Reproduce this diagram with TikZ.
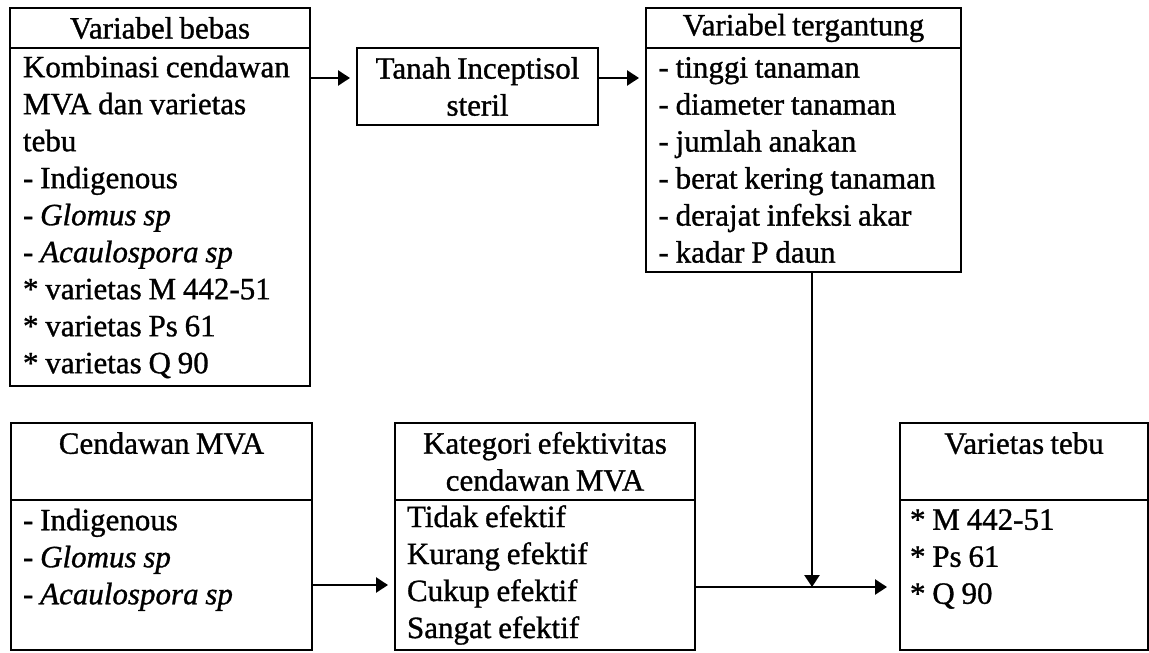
\documentclass[tikz,border=0pt]{standalone}
\usepackage{fontspec}
\setmainfont{Liberation Serif}[WordSpace=0.8,FakeBold=1]
\usetikzlibrary{arrows.meta}
\usetikzlibrary{positioning}

\tikzset{
	cell/.style={draw, line width=1pt, inner sep=0pt, font=\fontsize{15.5}{18.5}\selectfont},
	headcell/.style={cell, align=center},
	bodycell/.style={cell, align=left, execute at begin node={\spaceskip=0.22em\relax}},
	arr/.style={line width=1.3pt, -{Triangle[length=6pt,width=7.5pt]}, shorten >=3pt}
}

\begin{document}
\begin{tikzpicture}[x=0.5pt,y=-0.5pt]
	\useasboundingbox (0,0) rectangle (1149,652);
	% variabel bebas
	\node[headcell, minimum width=150pt, minimum height=20pt] (bebas) at (160,28) {Variabel bebas};
	\node[bodycell, minimum height=169pt, text width=137pt, inner xsep=6.5pt] (bebasisi) at (160,217) {Kombinasi cendawan\\MVA dan varietas\\tebu\\- Indigenous\\- \textit{Glomus sp}\\- \textit{Acaulospora sp}\\{*} varietas M 442-51\\{*} varietas Ps 61\\{*} varietas Q 90};
	% tanah
	\node[headcell, minimum width=120.5pt, minimum height=38.5pt] (tanah) at (477.5,86.5) {Tanah Inceptisol\\steril};
	% variabel tergantung
	\node[headcell, minimum width=157.5pt, minimum height=20pt] (terikat) at (803.5,28) {Variabel tergantung};
	\node[bodycell, minimum height=112pt, text width=145pt, inner xsep=6.25pt] (terikatisi) at (803.5,160) {- tinggi tanaman\\- diameter tanaman\\- jumlah anakan\\- berat kering tanaman\\- derajat infeksi akar\\- kadar P daun};
	% cendawan MVA
	\node[headcell, minimum width=150.5pt, minimum height=38.5pt] (cendawan) at (161.5,461.5) {Cendawan MVA\\~};
	\node[bodycell, minimum height=75pt, text width=138.5pt, inner xsep=6pt] (cendawanisi) at (161.5,575) {- Indigenous\\- \textit{Glomus sp}\\- \textit{Acaulospora sp}\\~};
	% kategori efektivitas
	\node[headcell, minimum width=150pt, minimum height=38.5pt] (kategori) at (545,461.5) {Kategori efektivitas\\cendawan MVA};
	\node[bodycell, minimum height=75pt, text width=138pt, inner xsep=6pt] (kategoriisi) at (545,575) {Tidak efektif\\Kurang efektif\\Cukup efektif\\Sangat efektif};
	% varietas tebu
	\node[headcell, minimum width=124pt, minimum height=38.5pt] (varietas) at (1024,461.5) {Varietas tebu\\~};
	\node[bodycell, minimum height=75pt, text width=114pt, inner xsep=5pt] (varietasisi) at (1024,575) {{*} M 442-51\\{*} Ps 61\\{*} Q 90\\~};
	% panah
	\coordinate (temu) at (812,587);
	\draw[arr] ([yshift=4.25pt]tanah.west -| bebasisi.east) -- ([yshift=4.25pt]tanah.west);
	\draw[arr] ([yshift=4.25pt]tanah.east) -- ([yshift=4.25pt]tanah.east -| terikatisi.west);
	\draw[arr] ([yshift=-5pt]cendawanisi.east) -- ([yshift=-5pt]kategoriisi.west);
	\draw[arr, shorten >=0pt] (terikatisi.south -| temu) -- (temu);
	\draw[arr, shorten >=6pt] (kategoriisi.east |- temu) -- (varietasisi.west |- temu);
\end{tikzpicture}
\end{document}
